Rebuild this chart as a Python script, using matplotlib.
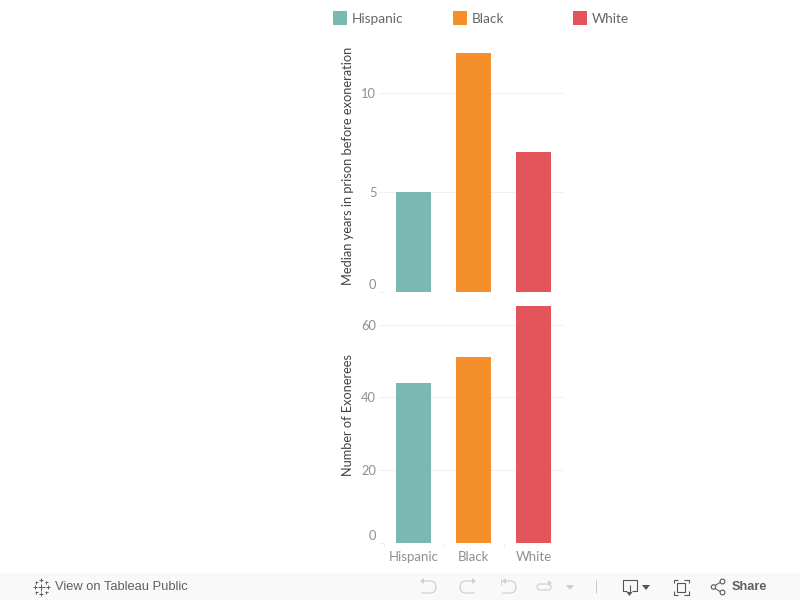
import matplotlib
matplotlib.use("Agg")
import matplotlib.pyplot as plt
from matplotlib.patches import Rectangle, FancyBboxPatch, Circle, Polygon
from matplotlib.path import Path
from matplotlib.patches import PathPatch
from matplotlib.transforms import ScaledTranslation

categories = ["Hispanic", "Black", "White"]
colors = ["#7ab8b1", "#f58f2b", "#e3555b"]
median_years = [5, 12, 7]
exonerees = [44, 51, 65]
top_ticks = [0, 5, 10]
bottom_ticks = [0, 20, 40, 60]
top_label = "Median years in prison before exoneration"
bottom_label = "Number of Exonerees"

W, H = 800, 600
FONT = "Lato"
GRID = "#f0f0f0"
TICKTXT = "#8f8f8f"
px = 0.72  # points per pixel at dpi 100

fig = plt.figure(figsize=(8, 6), dpi=100, facecolor="white")

def axes_px(x0, y0, x1, y1):
    return fig.add_axes([x0 / W, 1 - y1 / H, (x1 - x0) / W, (y1 - y0) / H])

def panel(ax, values, ticks, ymax, show_x):
    x = list(range(len(categories)))
    ax.bar(x, values, width=35 / 60, color=colors, zorder=3)
    ax.set_xlim(-0.5, 2.5)
    ax.set_ylim(0, ymax)
    for s in ax.spines.values():
        s.set_visible(False)
    ax.set_yticks(ticks)
    ax.tick_params(axis="y", length=5 * px, width=1 * px, color=GRID, pad=1.6,
                   labelcolor=TICKTXT, labelsize=9.3)
    ax.grid(axis="y", color=GRID, lw=1 * px, zorder=0)
    for gl, t in zip(ax.get_ygridlines(), ticks):
        if t == 0:
            gl.set_visible(False)
    for lab, t in zip(ax.get_yticklabels(), ticks):
        lab.set_fontfamily(FONT)
        if t == 0:
            lab.set_va("bottom")
            lab.set_transform(lab.get_transform() +
                              ScaledTranslation(0, 1 / 100, fig.dpi_scale_trans))
    if show_x:
        ax.set_xticks(x)
        ax.set_xticklabels(categories, family=FONT, fontsize=9.5, color=TICKTXT)
        ax.tick_params(axis="x", which="major", length=0, pad=6)
        ax.set_xticks([-0.5, 0.5, 1.5], minor=True)
        ax.tick_params(axis="x", which="minor", length=4 * px, width=1 * px, color=GRID)
    else:
        ax.set_xticks([])

top = axes_px(383.5, 40, 563.5, 291.6)
panel(top, median_years, top_ticks, 251.6 / 19.9, False)
bottom = axes_px(383.5, 300, 563.5, 543)
panel(bottom, exonerees, bottom_ticks, 243 / 3.64, True)

# Overlay in pixel coordinates for axis titles, legend and footer
ov = fig.add_axes([0, 0, 1, 1], zorder=5)
ov.set_xlim(0, W)
ov.set_ylim(H, 0)
ov.axis("off")
ov.patch.set_alpha(0)

ov.text(348.5, 165.5, top_label, rotation=90, ha="center", va="center",
        family=FONT, fontsize=9.25, color="#444444")
ov.text(348.5, 415.5, bottom_label, rotation=90, ha="center", va="center",
        family=FONT, fontsize=9.15, color="#444444")

for name, c, lx in zip(categories, colors, [333, 453, 573]):
    ov.add_patch(Rectangle((lx, 11), 14, 14, color=c, lw=0))
    ov.text(lx + 19, 19, name, ha="left", va="center", family=FONT,
            fontsize=9.8, color="#666666")

# Footer
ov.add_patch(Rectangle((0, 573), 800, 27, color="#f9f9f9", lw=0))
ov.text(55, 587.5, "View on Tableau Public", ha="left", va="center",
        family="Liberation Sans", fontsize=9.3, color="#606060", fontweight="normal")
ov.text(732, 587.5, "Share", ha="left", va="center", family="Liberation Sans",
        fontsize=9.2, color="#606060", fontweight="bold")

def ln(xs, ys, c="#d0d0d0", lw=1.0):
    ov.plot(xs, ys, color=c, lw=lw * px, solid_capstyle="butt")

def curve(verts, codes, c="#d0d0d0", lw=1.2):
    ov.add_patch(PathPatch(Path(verts, codes), fc="none", ec=c, lw=lw * px))

M, L, C3 = Path.MOVETO, Path.LINETO, Path.CURVE3

# Tableau logo
for cx, cy, r in [(41, 587, 3.5), (41, 580, 2), (41, 594, 2), (34.5, 587, 2),
                  (47.5, 587, 2), (36, 582, 1.5), (46, 582, 1.5), (36, 592, 1.5), (46, 592, 1.5)]:
    ln([cx - r, cx + r], [cy, cy], "#606060", 1)
    ln([cx, cx], [cy - r, cy + r], "#606060", 1)

# Undo
curve([(421, 581), (430, 581), (436, 581), (436, 587), (436, 593), (430, 593), (421, 593)],
      [M, L, C3, C3, C3, C3, L])
ov.add_patch(Polygon([(420, 581), (424, 578), (424, 584)], color="#d0d0d0", lw=0))
# Redo
curve([(475, 581), (466, 581), (460, 581), (460, 587), (460, 593), (466, 593), (475, 593)],
      [M, L, C3, C3, C3, C3, L])
ov.add_patch(Polygon([(476, 581), (472, 578), (472, 584)], color="#d0d0d0", lw=0))
# Revert
ln([501, 501], [579, 585])
curve([(503, 581), (510, 581), (516, 581), (516, 587), (516, 593), (510, 593), (502, 593)],
      [M, L, C3, C3, C3, C3, L])
ov.add_patch(Polygon([(502, 581), (506, 578), (506, 584)], color="#d0d0d0", lw=0))
# Refresh
ov.add_patch(FancyBboxPatch((537, 584), 14, 6, boxstyle="round,pad=0,rounding_size=3",
                            fc="none", ec="#d0d0d0", lw=1.2 * px))
ov.add_patch(Polygon([(552, 583), (548, 580), (548, 586)], color="#d0d0d0", lw=0))
# Dropdown
ov.add_patch(Polygon([(566, 585), (574, 585), (570, 590)], color="#d0d0d0", lw=0))
# Separator
ln([595.5, 595.5], [580, 593], "#c8c8c8")
# Download
ln([627, 622.5, 622.5, 636.5, 636.5, 632], [590.5, 590.5, 579.5, 579.5, 590.5, 590.5], "#555555", 1.1)
ln([629.5, 629.5], [585, 593], "#555555", 1.1)
ov.add_patch(Polygon([(626.5, 592), (632.5, 592), (629.5, 596)], color="#555555", lw=0))
ov.add_patch(Polygon([(642, 585), (650, 585), (646, 590)], color="#555555", lw=0))
# Fullscreen
for xs, ys in [([673.5, 673.5, 678], [583, 579.5, 579.5]), ([684, 688.5, 688.5], [579.5, 579.5, 583]),
               ([673.5, 673.5, 678], [591, 594.5, 594.5]), ([684, 688.5, 688.5], [594.5, 594.5, 591])]:
    ln(xs, ys, "#555555", 1.1)
ov.add_patch(Rectangle((677, 582.5), 8, 9, fc="none", ec="#555555", lw=1.1 * px))
# Share
ln([714, 721], [586, 582], "#555555", 1)
ln([714, 721], [588, 592], "#555555", 1)
for cx, cy, r in [(713.5, 587, 2.2), (722.5, 581.5, 2.4), (722.5, 592.5, 2.4)]:
    ov.add_patch(Circle((cx, cy), r, fc="#f9f9f9", ec="#555555", lw=1.1 * px, zorder=4))

fig.savefig("out.png", dpi=100)
